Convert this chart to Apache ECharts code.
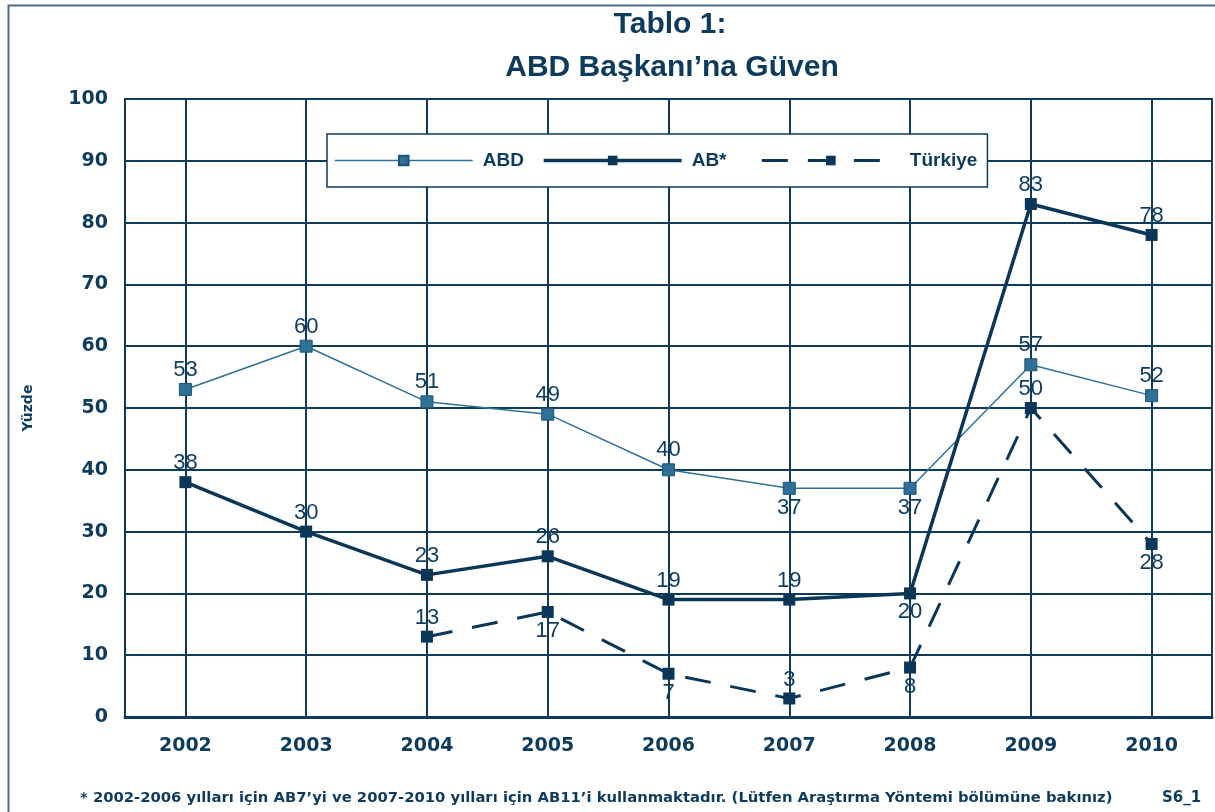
<!DOCTYPE html>
<html>
<head>
<meta charset="utf-8">
<script src="https://cdn.jsdelivr.net/npm/echarts@6/dist/echarts.min.js"></script>
<style>
  html, body { margin: 0; padding: 0; background: #fff; }
  #chart { width: 1215px; height: 812px; }
</style>
</head>
<body>
<div id="chart"></div>
<script>
const years = ["2002", "2003", "2004", "2005", "2006", "2007", "2008", "2009", "2010"];
const abd = [53, 60, 51, 49, 40, 37, 37, 57, 52];
const ab = [38, 30, 23, 26, 19, 19, 20, 83, 78];
const turkiye = [null, null, 13, 17, 7, 3, 8, 50, 28];

// where each value label sits (t = above, b = below)
const abdLabelPos = ["t", "t", "t", "t", "t", "b", "b", "t", "t"];
const abLabelPos = ["t", "t", "t", "t", "t", "t", "b", "t", "t"];
const trLabelPos = ["t", "t", "t", "b", "b", "t", "b", "t", "b"];

const navy = "#0d3b5e";
const sans = "'Liberation Sans', Arial, sans-serif";
const wide = "'DejaVu Sans', Verdana, sans-serif";

function withLabels(values, pos) {
  return values.map((v, i) => ({
    value: v,
    label: { position: pos[i] === "b" ? "bottom" : "top" },
  }));
}

const chart = echarts.init(document.getElementById("chart"));

const labelStyle = {
  show: true,
  color: navy,
  fontFamily: sans,
  fontSize: 22,
  distance: 2,
};

chart.setOption({
  animation: false,
  backgroundColor: "#fff",
  legend: {
    left: 327,
    top: 134,
    padding: [17, 10, 17, 7],
    backgroundColor: "#fff",
    borderColor: "#0d3b5e",
    borderWidth: 1.5,
    borderRadius: 0,
    itemWidth: 138,
    itemHeight: 12,
    itemGap: 18,
    lineStyle: { width: "inherit" },
    // extra room after "AB*" like the original spacing
    formatter: (name) => (name === "AB*" ? name + "\u00a0\u00a0\u00a0" : name),
    textStyle: {
      color: navy,
      fontFamily: sans,
      fontWeight: "bold",
      fontSize: 19,
      padding: [0, 0, 0, 5],
    },
    data: ["ABD", "AB*", "Türkiye"],
  },
  grid: {
    left: 125,
    right: 3,
    top: 99,
    bottom: 95,
    show: true,
    borderColor: navy,
    borderWidth: 2,
  },
  xAxis: {
    type: "category",
    data: years,
    boundaryGap: true,
    axisLine: { lineStyle: { color: navy, width: 3 } },
    axisTick: { show: false },
    axisLabel: {
      color: navy,
      fontFamily: wide,
      fontWeight: "bold",
      fontSize: 19,
      margin: 20,
    },
    splitLine: {
      show: true,
      alignWithLabel: true,
      lineStyle: { color: navy, width: 2 },
    },
  },
  yAxis: {
    type: "value",
    min: 0,
    max: 100,
    interval: 10,
    name: "Yüzde",
    nameLocation: "middle",
    nameGap: 90,
    nameTextStyle: {
      color: navy,
      fontFamily: wide,
      fontWeight: "bold",
      fontSize: 14,
    },
    axisLine: { show: true, lineStyle: { color: navy, width: 2 } },
    axisTick: { show: false },
    axisLabel: {
      color: navy,
      fontFamily: wide,
      fontWeight: "bold",
      fontSize: 19,
      margin: 17,
    },
    splitLine: { show: true, lineStyle: { color: navy, width: 2 } },
  },
  series: [
    {
      name: "ABD",
      type: "line",
      data: withLabels(abd, abdLabelPos),
      symbol: "rect",
      symbolSize: 12,
      lineStyle: { color: "#2f7096", width: 1.5 },
      itemStyle: { color: "#2f7096", borderColor: "#1d5478", borderWidth: 1 },
      label: labelStyle,
      z: 3,
    },
    {
      name: "AB*",
      type: "line",
      data: withLabels(ab, abLabelPos),
      symbol: "rect",
      symbolSize: 12,
      lineStyle: { color: "#0a3657", width: 3.5 },
      itemStyle: { color: "#0a3657" },
      label: labelStyle,
      z: 4,
    },
    {
      name: "Türkiye",
      type: "line",
      data: withLabels(turkiye, trLabelPos),
      symbol: "rect",
      symbolSize: 12,
      lineStyle: { color: "#0a3657", width: 3, type: [26, 20] },
      itemStyle: { color: "#0a3657" },
      label: labelStyle,
      z: 4,
    },
  ],
  graphic: [
    {
      type: "rect",
      left: 6,
      top: 3,
      shape: { width: 1230, height: 840 },
      style: { fill: "none", stroke: "#4d6d85", lineWidth: 2 },
      silent: true,
      z: -1,
    },
    {
      type: "text",
      x: 670,
      y: 25,
      style: {
        text: "Tablo 1:",
        fill: navy,
        font: "bold 30px 'Liberation Sans', Arial, sans-serif",
        textAlign: "center",
        textVerticalAlign: "middle",
      },
    },
    {
      type: "text",
      x: 672,
      y: 68,
      style: {
        text: "ABD Başkanı’na Güven",
        fill: navy,
        font: "bold 30px 'Liberation Sans', Arial, sans-serif",
        textAlign: "center",
        textVerticalAlign: "middle",
      },
    },
    {
      type: "text",
      left: 80,
      top: 791,
      style: {
        text: "* 2002-2006 yılları için AB7’yi ve 2007-2010 yılları için AB11’i kullanmaktadır. (Lütfen Araştırma Yöntemi bölümüne bakınız)",
        fill: navy,
        font: "bold 14.8px 'DejaVu Sans', Verdana, sans-serif",
      },
    },
    {
      type: "text",
      left: 1162,
      top: 791,
      style: {
        text: "S6_1",
        fill: navy,
        font: "bold 15px 'DejaVu Sans', Verdana, sans-serif",
      },
    },
  ],
});
</script>
</body>
</html>
